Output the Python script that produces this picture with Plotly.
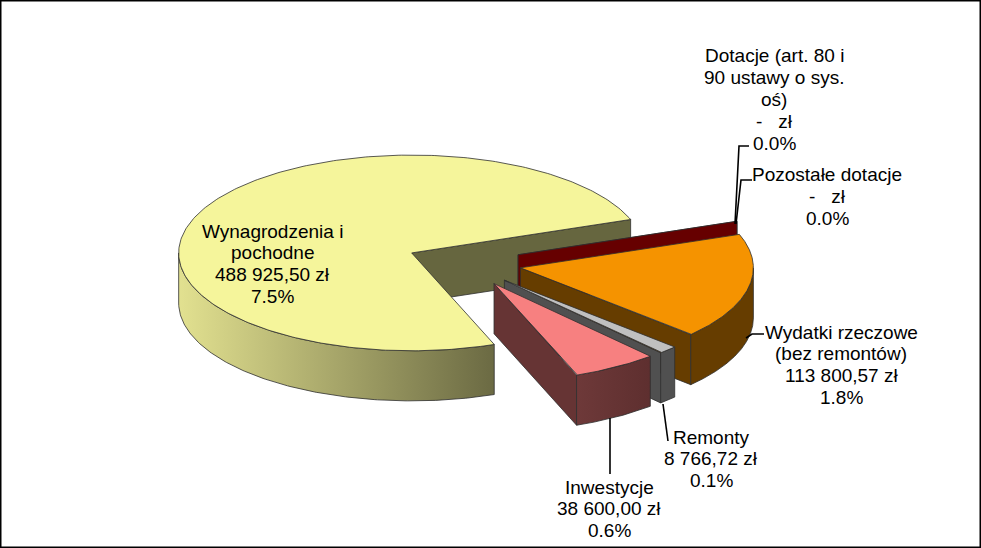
import numpy as np
import plotly.graph_objects as go

# data, in clockwise order as the slices sit in the chart
labels = [
    "Wynagrodzenia i<br>pochodne",
    "Dotacje (art. 80 i<br>90 ustawy o sys.<br>oś)",
    "Pozostałe dotacje",
    "Wydatki rzeczowe<br>(bez remontów)",
    "Remonty",
    "Inwestycje",
]
amounts = [488925.50, 0.0, 0.0, 113800.57, 8766.72, 38600.00]
amount_labels = ["488 925,50 zł", "-   zł", "-   zł", "113 800,57 zł", "8 766,72 zł", "38 600,00 zł"]
share_labels = ["7.5%", "0.0%", "0.0%", "1.8%", "0.1%", "0.6%"]

# style
top_colors = ["#F5F59B", "#6E0000", "#6E0000", "#F59300", "#C0C0C0", "#F78080"]
side_colors = ["#66663F", "#660000", "#660000", "#663D00", "#505050", "#663434"]
wall_colors = [("#E2E190", "#6B6A43"), None, None, None, None, ("#6E3939", "#5E2F2F")]
EDGE = "#2E2E2E"

W, H = 981, 548
R_PX = 233          # pie radius in pixels
CX, CY = 464, 263   # pie centre in pixels
TILT = 0.42         # vertical squash of the 3d view
DEPTH = 0.215       # thickness of the pie
EXPLODE = 0.247
END_ANGLE = 20      # where the first slice ends (deg, clockwise drawing)

# label placement (pixel centre x, first line y)
label_pos = [(272, 231), (774, 56), (827, 175), (841, 332), (711, 437), (609, 487)]
LINE_STEP = 21.8
leaders = [
    None,
    [(735, 224), (739, 146), (749, 146)],
    [(736, 224), (741, 180), (752, 180)],
    [(746, 338), (752, 334), (764, 334)],
    [(663, 404), (668, 441)],
    [(610, 418), (610, 474)],
]


def to_xy(px, py):
    return (px - CX) / R_PX, (CY - py) / R_PX


fig = go.Figure()


def add_poly(xs, ys, color=None, grad=None):
    kw = dict(fillcolor=color)
    if grad is not None:
        kw = dict(fillgradient=dict(type="horizontal",
                                    colorscale=[[0, grad[0]], [1, grad[1]]]))
    fig.add_trace(go.Scatter(
        x=list(xs) + [xs[0]], y=list(ys) + [ys[0]], mode="lines", fill="toself",
        line=dict(color=EDGE, width=0.8), hoverinfo="skip", showlegend=False, **kw))


total = sum(amounts)
slices = []
cur = END_ANGLE + 360 * amounts[0] / total
for i, v in enumerate(amounts):
    hi = cur
    lo = cur - 360 * v / total
    cur = lo
    slices.append((i, np.radians(lo), np.radians(hi)))

# paint back to front
slices.sort(key=lambda s: -np.sin((s[1] + s[2]) / 2))

for i, lo, hi in slices:
    mid = (lo + hi) / 2
    ox = EXPLODE * np.cos(mid)
    oy = EXPLODE * TILT * np.sin(mid)

    def pt(t, dz=0.0):
        return ox + np.cos(t), oy + TILT * np.sin(t) - dz

    # cut faces
    for a, visible in ((lo, np.cos(lo) > 0), (hi, np.cos(hi) < 0 and hi > lo)):
        if visible:
            x1, y1 = pt(a)
            add_poly([ox, x1, x1, ox], [oy, y1, y1 - DEPTH, oy - DEPTH], side_colors[i])

    # outer wall, front half only
    if hi > lo:
        ts = np.linspace(lo, hi, 400)
        extra = [k * np.pi for k in range(-4, 5) if lo < k * np.pi < hi]
        ts = np.sort(np.concatenate([ts, extra]))
        vis = np.sin(ts) <= 1e-9
        runs, run = [], []
        for t, ok in zip(ts, vis):
            if ok:
                run.append(t)
            elif run:
                runs.append(run)
                run = []
        if run:
            runs.append(run)
        for run in runs:
            run = np.array(run)
            ux, uy = pt(run)
            lx, ly = pt(run[::-1], DEPTH)
            add_poly(np.concatenate([ux, lx]), np.concatenate([uy, ly]),
                     side_colors[i], wall_colors[i])

        # top face
        ts = np.linspace(lo, hi, 300)
        ax, ay = pt(ts)
        add_poly(np.concatenate([[ox], ax]), np.concatenate([[oy], ay]), top_colors[i])

# leader lines
for path in leaders:
    if path is None:
        continue
    xy = [to_xy(*p) for p in path]
    fig.add_trace(go.Scatter(x=[p[0] for p in xy], y=[p[1] for p in xy], mode="lines",
                             line=dict(color="black", width=1.6),
                             hoverinfo="skip", showlegend=False))

# labels, one annotation per line for Excel-like spacing
for i, (px, py) in enumerate(label_pos):
    lines = labels[i].split("<br>") + [amount_labels[i], share_labels[i]]
    for k, line in enumerate(lines):
        fig.add_annotation(x=px / W, y=1 - (py + k * LINE_STEP) / H, xref="paper", yref="paper",
                           text=line, showarrow=False, xanchor="center", yanchor="middle",
                           font=dict(family="Liberation Sans, Arial", size=19, color="black"))

fig.add_shape(type="rect", xref="paper", yref="paper", x0=0, y0=0, x1=1, y1=1,
              line=dict(color="black", width=3), fillcolor="rgba(0,0,0,0)")

fig.update_xaxes(range=[-CX / R_PX, (W - CX) / R_PX], visible=False, fixedrange=True)
fig.update_yaxes(range=[-(H - CY) / R_PX, CY / R_PX], visible=False, fixedrange=True)
fig.update_layout(width=W, height=H, margin=dict(l=0, r=0, t=0, b=0),
                  paper_bgcolor="white", plot_bgcolor="white")

fig.write_html("out.html", config={"displayModeBar": False},
               post_script="document.body.style.margin = '0';")
